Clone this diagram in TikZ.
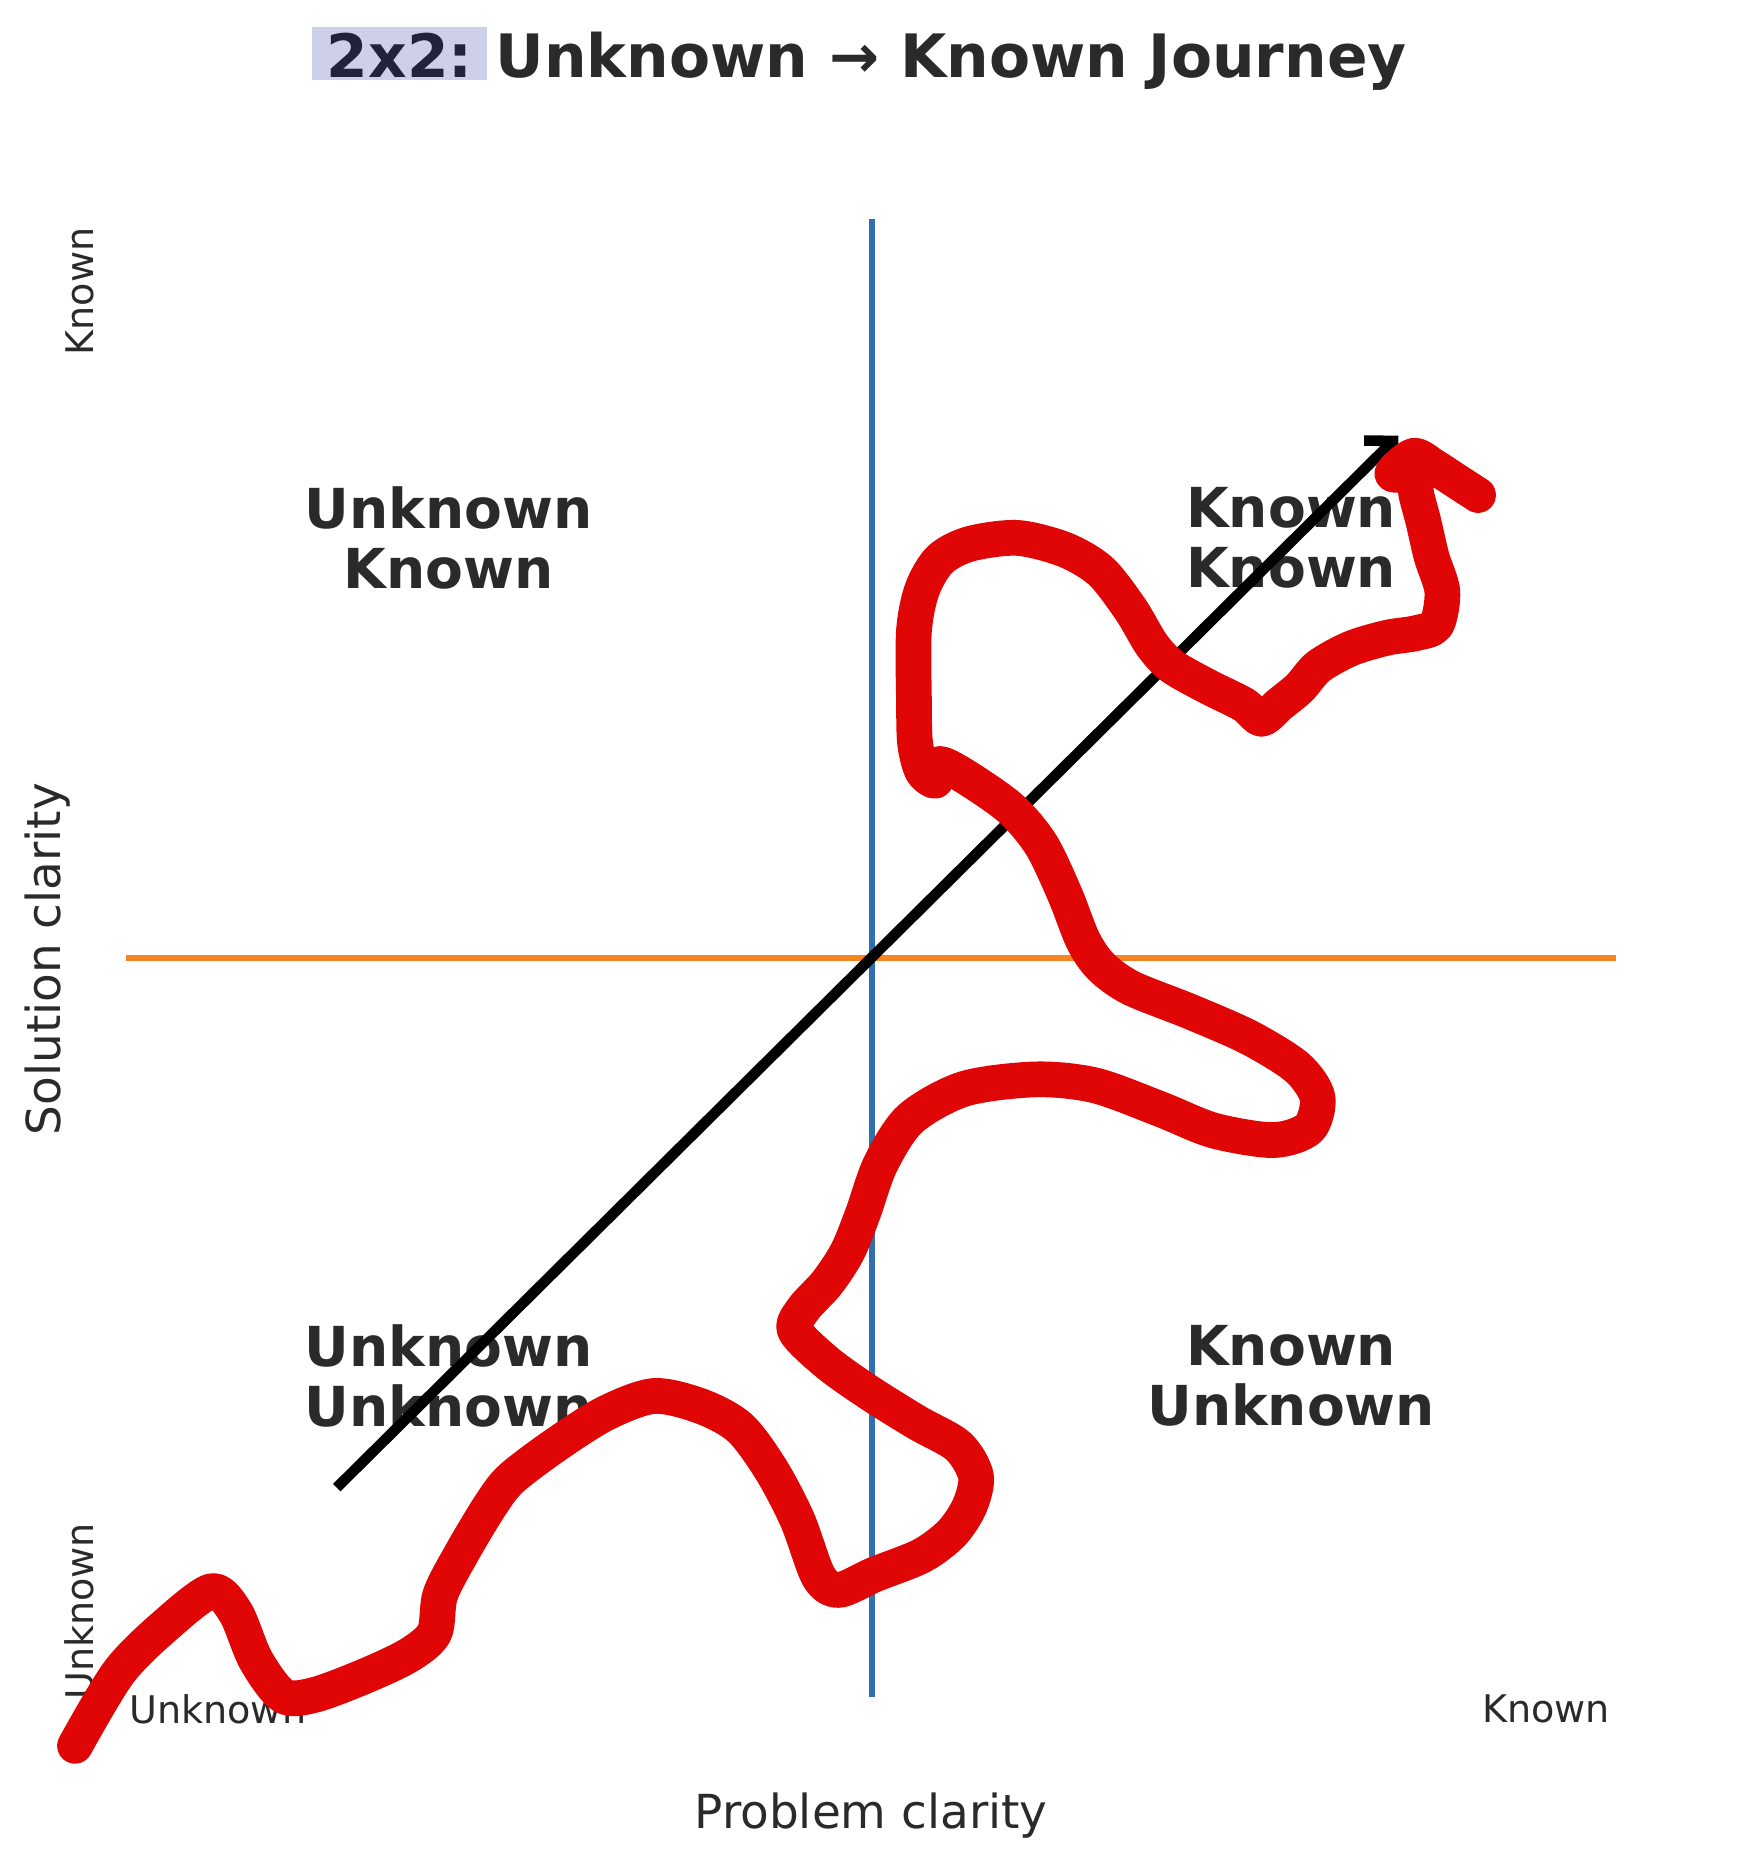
\documentclass[tikz,border=0pt]{standalone}
\usepackage{fontspec}
\setmainfont{DejaVu Sans}
\usepackage{tikz}
\usetikzlibrary{arrows.meta,positioning}
\definecolor{inkgray}{HTML}{2A2A2A}
\definecolor{tagink}{HTML}{22223C}
\definecolor{tagfill}{HTML}{CDD0E8}
\definecolor{divblue}{HTML}{3070B0}
\definecolor{divorange}{HTML}{F5861F}
\definecolor{journeyred}{HTML}{E10606}
\tikzset{
  quadlabel/.style={font=\bfseries\fontsize{16.2}{17.5}\selectfont, text=inkgray, align=center, inner sep=0pt},
  axislabel/.style={font=\fontsize{13.8}{16}\selectfont, text=inkgray, inner sep=0pt},
  ticklabel/.style={font=\fontsize{11.2}{13}\selectfont, text=inkgray, inner sep=0pt},
  tagbox/.style={font=\bfseries\fontsize{17.6}{20}\selectfont, text=tagink, fill=tagfill, inner xsep=4.2pt, inner ysep=0.7pt, text height=14pt, text depth=0pt},
  titletext/.style={font=\bfseries\fontsize{17.6}{20}\selectfont, text=inkgray, inner sep=0pt},
  vdivider/.style={line width=1.8pt, draw=divblue},
  hdivider/.style={line width=1.8pt, draw=divorange},
  trend/.style={-{Straight Barb[length=6pt,width=12pt]}, line width=3.1pt},
  journey/.style={line width=10.5pt, draw=journeyred, line cap=round, line join=round}
}

\begin{document}
\begin{tikzpicture}[x=0.35pt, y=-0.35pt]
\useasboundingbox (0,0) rectangle (1462,1568);
% title
\node[tagbox, anchor=base west] (tag) at (262,65) {2x2:};
\node[titletext, base right=2.2pt of tag] (title) {Unknown → Known Journey};
% quadrant dividers
\coordinate (vtop) at (733,184);
\coordinate (vbot) at (733,1426);
\coordinate (hleft) at (106,805);
\coordinate (hright) at (1358,805);
\draw[vdivider] (vtop) -- (vbot);
\draw[hdivider] (hleft) -- (hright);
% axis labels
\node[axislabel, rotate=90] (ylab) at (40,806) {Solution clarity};
\node[axislabel] (xlab) at (732,1526) {Problem clarity};
\node[ticklabel, rotate=90] (ytop) at (67,245) {Known};
\node[ticklabel, rotate=90] (ybot) at (67,1354) {Unknown};
\node[ticklabel] (xleft) at (183,1436) {Unknown};
\node[ticklabel] (xright) at (1299,1436) {Known};
% quadrants
\node[quadlabel] (uk) at (377,452) {Unknown\\Known};
\node[quadlabel] (kk) at (1085,452) {Known\\Known};
\node[quadlabel] (uu) at (377,1156) {Unknown\\Unknown};
\node[quadlabel] (ku) at (1085,1156) {Known\\Unknown};
% trend arrow
\coordinate (trendstart) at (283,1250);
\coordinate (trendend) at (1175,366);
\draw[trend] (trendstart) -- (trendend);
% the actual journey
\draw[journey] plot[smooth, tension=0.5] coordinates {
  (63,1467) (100,1405) (140,1365) (178,1337) (198,1355) (215,1395)
  (238,1425) (265,1424) (310,1407) (345,1390) (365,1372) (370,1340)
  (388,1305) (412,1265) (430,1242) (470,1212) (510,1187) (550,1173)
  (590,1182) (622,1200) (648,1235) (670,1277) (688,1325) (705,1336)
  (735,1323) (775,1307) (800,1288) (815,1265) (820,1240) (805,1215)
  (770,1195) (730,1170) (695,1145) (668,1118) (675,1100) (695,1078)
  (712,1052) (725,1020) (740,978) (765,940) (810,915) (870,907)
  (920,912) (975,932) (1020,950) (1070,958) (1100,948) (1107,922)
  (1090,897) (1050,872) (1000,850) (950,830) (925,812) (910,790)
  (895,752) (875,710) (850,680) (815,655) (790,642) (786,656)
  (775,648) (769,625) (768,590) (768,530) (775,495) (790,470)
  (815,457) (855,452) (895,462) (925,480) (950,512) (968,542)
  (985,560) (1015,577) (1045,592) (1060,604) (1075,592) (1092,578)
  (1108,560) (1135,545) (1165,536) (1190,532) (1207,525) (1212,497)
  (1203,468) (1196,438) (1190,415) (1188,400) (1170,398) (1188,383)
  (1205,392) (1225,405) (1242,416)};
\end{tikzpicture}
\end{document}
